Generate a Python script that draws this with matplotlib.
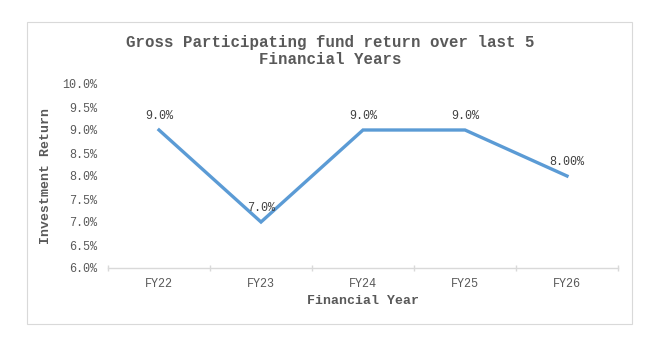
import matplotlib.pyplot as plt
from matplotlib.patches import Rectangle

# data
years = ['FY22', 'FY23', 'FY24', 'FY25', 'FY26']
returns = [9.0, 7.0, 9.0, 9.0, 8.0]
point_labels = ['9.0%', '7.0%', '9.0%', '9.0%', '8.00%']
y_ticks = [6.0, 6.5, 7.0, 7.5, 8.0, 8.5, 9.0, 9.5, 10.0]

grey = '#595959'
line_blue = '#5B9BD5'
font = ['Liberation Mono', 'DejaVu Sans Mono']

plt.rcParams['font.family'] = font

fig = plt.figure(figsize=(6.57, 3.45), dpi=100)
W, H = 657, 345

# outer chart border
fig.patches.append(Rectangle((27 / W, 1 - 324 / H), (632 - 27) / W, (324 - 22) / H,
                             transform=fig.transFigure, fill=False,
                             edgecolor='#d9d9d9', linewidth=0.8))

ax = fig.add_axes([108 / W, 1 - 268 / H, (618 - 108) / W, (268 - 84) / H])

x = list(range(len(years)))
ax.plot(x, returns, color=line_blue, linewidth=2.4, solid_joinstyle='miter')

for xi, yi, lab in zip(x, returns, point_labels):
    ax.annotate(lab, (xi, yi), xytext=(0, 6), textcoords='offset points',
                ha='center', va='bottom', fontsize=8.5, color='#404040')

ax.set_xlim(-0.5, len(years) - 0.5)
ax.set_ylim(6.0, 10.0)
ax.set_yticks(y_ticks)
ax.set_yticklabels([f'{v:.1f}%' for v in y_ticks])
ax.set_xticks(x)
ax.set_xticklabels(years)
ax.set_xticks([i - 0.5 for i in range(len(years) + 1)], minor=True)

for s in ['top', 'right', 'left']:
    ax.spines[s].set_visible(False)
ax.spines['bottom'].set_color('#d9d9d9')
ax.spines['bottom'].set_linewidth(1)

ax.tick_params(axis='x', which='major', length=0, pad=7, labelsize=8.5, labelcolor=grey)
ax.tick_params(axis='x', which='minor', length=4, color='#d9d9d9', width=1, direction='inout')
ax.tick_params(axis='y', length=0, pad=8, labelsize=8.5, labelcolor=grey)

ax.set_xlabel('Financial Year', fontsize=9.5, fontweight='bold', color=grey, labelpad=4)
ax.set_ylabel('Investment Return', fontsize=9.5, fontweight='bold', color=grey, labelpad=7)

fig.text(330 / W, 1 - 51 / H, 'Gross Participating fund return over last 5\nFinancial Years',
         ha='center', va='center', fontsize=11.3, fontweight='bold', color=grey,
         linespacing=1.15)

fig.savefig('out.png', dpi=100)
